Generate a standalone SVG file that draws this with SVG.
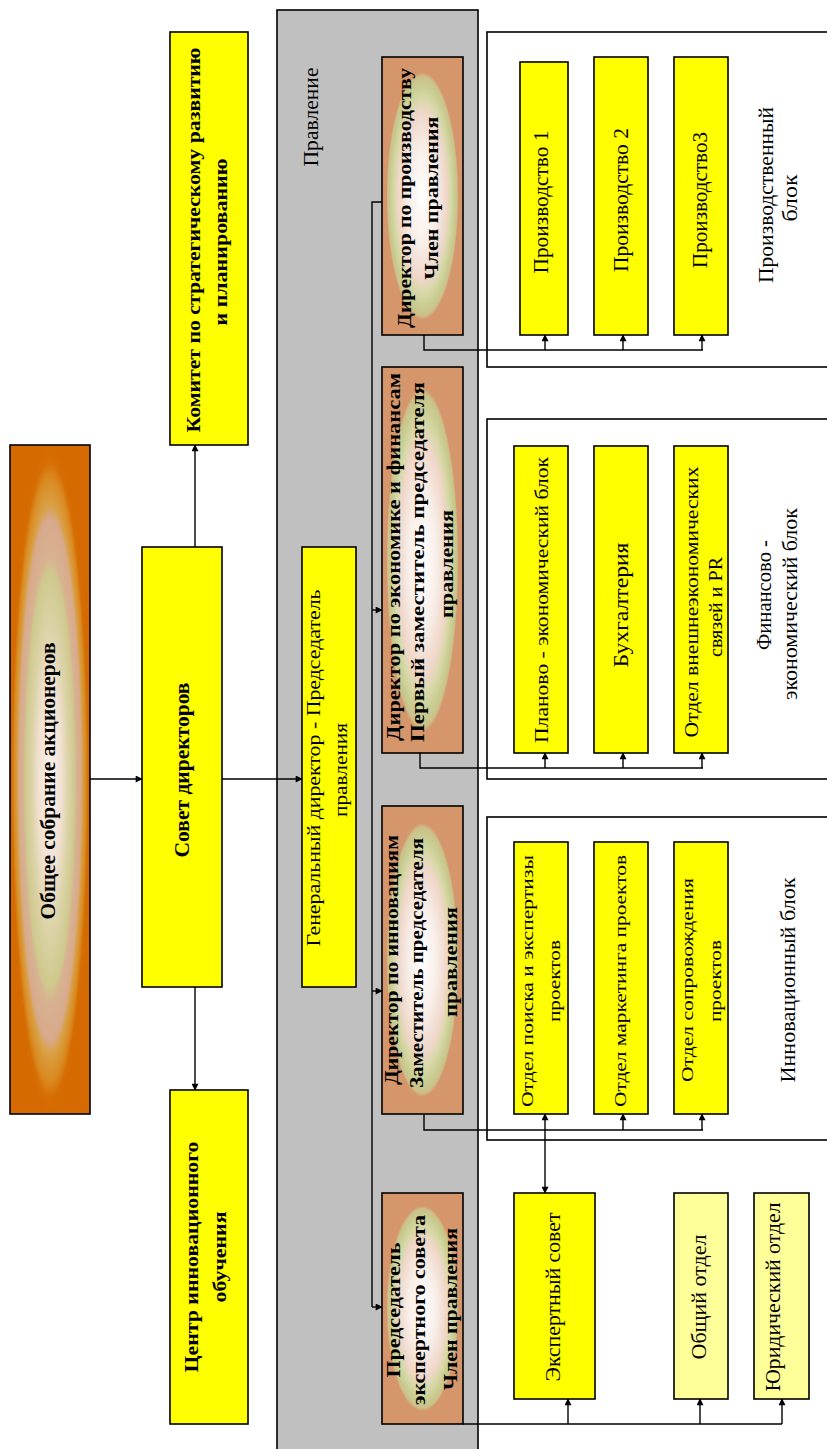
<svg xmlns="http://www.w3.org/2000/svg" width="827" height="1449" viewBox="0 0 827 1449">
<style>
.t{font-family:"Liberation Serif","Times New Roman",serif;fill:#000;text-anchor:middle}
.b{font-weight:bold}
.y{fill:#FFFF00;stroke:#000;stroke-width:1.6}
.py{fill:#FFFF99;stroke:#000;stroke-width:1.6}
.d{fill:url(#gDir);stroke:#000;stroke-width:1.6}
.fr{fill:#fff;stroke:#000;stroke-width:1.6}
.c{fill:none;stroke:#000;stroke-width:1.4}
.a{marker-end:url(#ah)}
</style>
<defs>
<marker id="ah" viewBox="0 0 10 10" refX="9" refY="5" markerWidth="8" markerHeight="7" orient="auto" markerUnits="userSpaceOnUse"><path d="M0,0 L10,5 L0,10 z" fill="#000"/></marker>
<radialGradient id="gDir" cx="0.5" cy="0.5" r="0.5">
<stop offset="0" stop-color="#FFFFFF"/>
<stop offset="0.35" stop-color="#F8EEE8"/>
<stop offset="0.6" stop-color="#EFD6C8"/>
<stop offset="0.7" stop-color="#D8D8A8"/>
<stop offset="0.8" stop-color="#C8CC90"/>
<stop offset="0.86" stop-color="#CCC08A"/>
<stop offset="0.89" stop-color="#D4966A"/>
<stop offset="1" stop-color="#D4966A"/>
</radialGradient>
<radialGradient id="gTop" cx="0.5" cy="0.5" r="0.5">
<stop offset="0" stop-color="#FBF1EA"/>
<stop offset="0.3" stop-color="#F0E0D0"/>
<stop offset="0.45" stop-color="#DCD3A8"/>
<stop offset="0.62" stop-color="#CFC88C"/>
<stop offset="0.66" stop-color="#D8B391"/>
<stop offset="0.78" stop-color="#D7A98A"/>
<stop offset="0.82" stop-color="#D9A045"/>
<stop offset="0.9" stop-color="#D98A20"/>
<stop offset="0.95" stop-color="#D66E04"/>
<stop offset="1" stop-color="#D46A00"/>
</radialGradient>
</defs>
<rect width="827" height="1449" fill="#fff"/>

<g id="board-panel">
<rect x="277" y="10" width="201" height="1445" fill="#C0C0C0" stroke="#000" stroke-width="1.6"/>
<text class="t" font-size="20" textLength="99" lengthAdjust="spacingAndGlyphs" transform="translate(318,117) rotate(-90)">Правление</text>
</g>

<g id="frame-prod"><rect class="fr" x="487" y="32" width="345" height="335"/>
<text class="t" font-size="20" textLength="176" lengthAdjust="spacingAndGlyphs" transform="translate(773,195) rotate(-90)">Производственный</text>
<text class="t" font-size="20" textLength="47" lengthAdjust="spacingAndGlyphs" transform="translate(797,198) rotate(-90)">блок</text>
</g>
<g id="frame-fin"><rect class="fr" x="487" y="419" width="345" height="360"/>
<text class="t" font-size="20" textLength="110" lengthAdjust="spacingAndGlyphs" transform="translate(771,595) rotate(-90)">Финансово -</text>
<text class="t" font-size="20" textLength="192" lengthAdjust="spacingAndGlyphs" transform="translate(797,604) rotate(-90)">экономический блок</text>
</g>
<g id="frame-inn"><rect class="fr" x="487" y="817" width="345" height="323"/>
<text class="t" font-size="20" textLength="205" lengthAdjust="spacingAndGlyphs" transform="translate(795,980) rotate(-90)">Инновационный блок</text>
</g>

<g id="connectors">
<path class="c a" d="M90,779 H142"/>
<path class="c a" d="M195,547 V445"/>
<path class="c a" d="M195,987 V1090"/>
<path class="c a" d="M222,779 H302"/>
<path class="c" d="M382,202 H372 V1307"/>
<path class="c a" d="M372,610 H382"/>
<path class="c a" d="M372,991 H382"/>
<path class="c a" d="M372,1307 H382"/>
<path class="c" d="M424,335 V350 H703"/>
<path class="c a" d="M545,350 V335"/>
<path class="c a" d="M623,350 V335"/>
<path class="c a" d="M702,350 V335"/>
<path class="c" d="M420,753 V768 H703"/>
<path class="c a" d="M545,768 V753"/>
<path class="c a" d="M623,768 V753"/>
<path class="c a" d="M702,768 V753"/>
<path class="c" d="M424,1114 V1130 H703"/>
<path class="c a" d="M545,1130 V1114"/>
<path class="c a" d="M623,1130 V1114"/>
<path class="c a" d="M702,1130 V1114"/>
<path class="c a" d="M545,1130 V1193"/>
<path class="c" d="M463,1424 H782"/>
<path class="c a" d="M568,1424 V1399"/>
<path class="c a" d="M700,1424 V1399"/>
<path class="c a" d="M782,1424 V1399"/>
</g>

<g id="n-shareholders">
<rect x="10" y="445" width="80" height="669" fill="url(#gTop)" stroke="#000" stroke-width="1.6"/>
<text class="t b" font-size="20" textLength="277" lengthAdjust="spacingAndGlyphs" transform="translate(55,781) rotate(-90)">Общее собрание акционеров</text>
</g>
<g id="n-board">
<rect class="y" x="142" y="547" width="80" height="440"/>
<text class="t b" font-size="20" textLength="175" lengthAdjust="spacingAndGlyphs" transform="translate(189,770) rotate(-90)">Совет директоров</text>
</g>
<g id="n-committee">
<rect class="y" x="170" y="32" width="78" height="413"/>
<text class="t b" font-size="19" textLength="385" lengthAdjust="spacingAndGlyphs" transform="translate(200,240) rotate(-90)">Комитет по стратегическому развитию</text>
<text class="t b" font-size="19" textLength="167" lengthAdjust="spacingAndGlyphs" transform="translate(227,242) rotate(-90)">и планированию</text>
</g>
<g id="n-center">
<rect class="y" x="170" y="1090" width="78" height="334"/>
<text class="t b" font-size="19" textLength="231" lengthAdjust="spacingAndGlyphs" transform="translate(198,1257) rotate(-90)">Центр инновационного</text>
<text class="t b" font-size="19" textLength="91" lengthAdjust="spacingAndGlyphs" transform="translate(226,1257) rotate(-90)">обучения</text>
</g>
<g id="n-gendir">
<rect class="y" x="302" y="547" width="54" height="440"/>
<text class="t" font-size="19" textLength="357" lengthAdjust="spacingAndGlyphs" transform="translate(320,768) rotate(-90)">Генеральный директор - Председатель</text>
<text class="t" font-size="19" textLength="94" lengthAdjust="spacingAndGlyphs" transform="translate(347,770) rotate(-90)">правления</text>
</g>
<g id="n-dir-prod">
<rect class="d" x="382" y="57" width="81" height="278"/>
<text class="t b" font-size="18" textLength="260" lengthAdjust="spacingAndGlyphs" transform="translate(411,198) rotate(-90)">Директор по производству</text>
<text class="t b" font-size="18" textLength="163" lengthAdjust="spacingAndGlyphs" transform="translate(438,198) rotate(-90)">Член правления</text>
</g>
<g id="n-dir-fin">
<rect class="d" x="382" y="367" width="81" height="386"/>
<text class="t b" font-size="18" textLength="368" lengthAdjust="spacingAndGlyphs" transform="translate(400,557) rotate(-90)">Директор по экономике и финансам</text>
<text class="t b" font-size="18" textLength="360" lengthAdjust="spacingAndGlyphs" transform="translate(424,562) rotate(-90)">Первый заместитель председателя</text>
<text class="t b" font-size="18" textLength="108" lengthAdjust="spacingAndGlyphs" transform="translate(453,564) rotate(-90)">правления</text>
</g>
<g id="n-dir-inn">
<rect class="d" x="382" y="806" width="81" height="308"/>
<text class="t b" font-size="18" textLength="250" lengthAdjust="spacingAndGlyphs" transform="translate(398,960) rotate(-90)">Директор по инновациям</text>
<text class="t b" font-size="18" textLength="250" lengthAdjust="spacingAndGlyphs" transform="translate(423,963) rotate(-90)">Заместитель председателя</text>
<text class="t b" font-size="18" textLength="110" lengthAdjust="spacingAndGlyphs" transform="translate(457,962) rotate(-90)">правления</text>
</g>
<g id="n-chair-expert">
<rect class="d" x="382" y="1193" width="81" height="231"/>
<text class="t b" font-size="18" textLength="135" lengthAdjust="spacingAndGlyphs" transform="translate(400,1310) rotate(-90)">Председатель</text>
<text class="t b" font-size="18" textLength="190" lengthAdjust="spacingAndGlyphs" transform="translate(425,1310) rotate(-90)">экспертного совета</text>
<text class="t b" font-size="18" textLength="162" lengthAdjust="spacingAndGlyphs" transform="translate(457,1309) rotate(-90)">Член правления</text>
</g>

<g id="n-prod1"><rect class="y" x="520" y="62" width="48" height="273"/>
<text class="t" font-size="20" textLength="143" lengthAdjust="spacingAndGlyphs" transform="translate(548,202) rotate(-90)">Производство 1</text></g>
<g id="n-prod2"><rect class="y" x="594" y="57" width="54" height="278"/>
<text class="t" font-size="20" textLength="144" lengthAdjust="spacingAndGlyphs" transform="translate(628,200) rotate(-90)">Производство 2</text></g>
<g id="n-prod3"><rect class="y" x="674" y="57" width="54" height="278"/>
<text class="t" font-size="20" textLength="136" lengthAdjust="spacingAndGlyphs" transform="translate(707,200) rotate(-90)">Производство3</text></g>

<g id="n-plan"><rect class="y" x="514" y="446" width="54" height="307"/>
<text class="t" font-size="19" textLength="286" lengthAdjust="spacingAndGlyphs" transform="translate(548,600) rotate(-90)">Планово - экономический блок</text></g>
<g id="n-acc"><rect class="y" x="594" y="446" width="54" height="307"/>
<text class="t" font-size="20" textLength="125" lengthAdjust="spacingAndGlyphs" transform="translate(628,605) rotate(-90)">Бухгалтерия</text></g>
<g id="n-ext"><rect class="y" x="674" y="446" width="54" height="307"/>
<text class="t" font-size="18" textLength="271" lengthAdjust="spacingAndGlyphs" transform="translate(698,602) rotate(-90)">Отдел внешнеэкономических</text>
<text class="t" font-size="18" textLength="100" lengthAdjust="spacingAndGlyphs" transform="translate(722,607) rotate(-90)">связей и PR</text></g>

<g id="n-search"><rect class="y" x="514" y="842" width="54" height="272"/>
<text class="t" font-size="17" textLength="252" lengthAdjust="spacingAndGlyphs" transform="translate(533,981) rotate(-90)">Отдел поиска и экспертизы</text>
<text class="t" font-size="17" textLength="82" lengthAdjust="spacingAndGlyphs" transform="translate(560,981) rotate(-90)">проектов</text></g>
<g id="n-mkt"><rect class="y" x="594" y="842" width="54" height="272"/>
<text class="t" font-size="17" textLength="252" lengthAdjust="spacingAndGlyphs" transform="translate(626,981) rotate(-90)">Отдел маркетинга проектов</text></g>
<g id="n-support"><rect class="y" x="674" y="842" width="54" height="272"/>
<text class="t" font-size="17" textLength="204" lengthAdjust="spacingAndGlyphs" transform="translate(693,980) rotate(-90)">Отдел сопровождения</text>
<text class="t" font-size="17" textLength="82" lengthAdjust="spacingAndGlyphs" transform="translate(721,981) rotate(-90)">проектов</text></g>

<g id="n-expert"><rect class="y" x="514" y="1193" width="81" height="206"/>
<text class="t" font-size="20" textLength="169" lengthAdjust="spacingAndGlyphs" transform="translate(560,1297) rotate(-90)">Экспертный совет</text></g>
<g id="n-general"><rect class="py" x="674" y="1193" width="54" height="206"/>
<text class="t" font-size="20" textLength="125" lengthAdjust="spacingAndGlyphs" transform="translate(706,1297) rotate(-90)">Общий отдел</text></g>
<g id="n-legal"><rect class="py" x="754" y="1193" width="55" height="206"/>
<text class="t" font-size="20" textLength="189" lengthAdjust="spacingAndGlyphs" transform="translate(780,1297) rotate(-90)">Юридический отдел</text></g>
</svg>
